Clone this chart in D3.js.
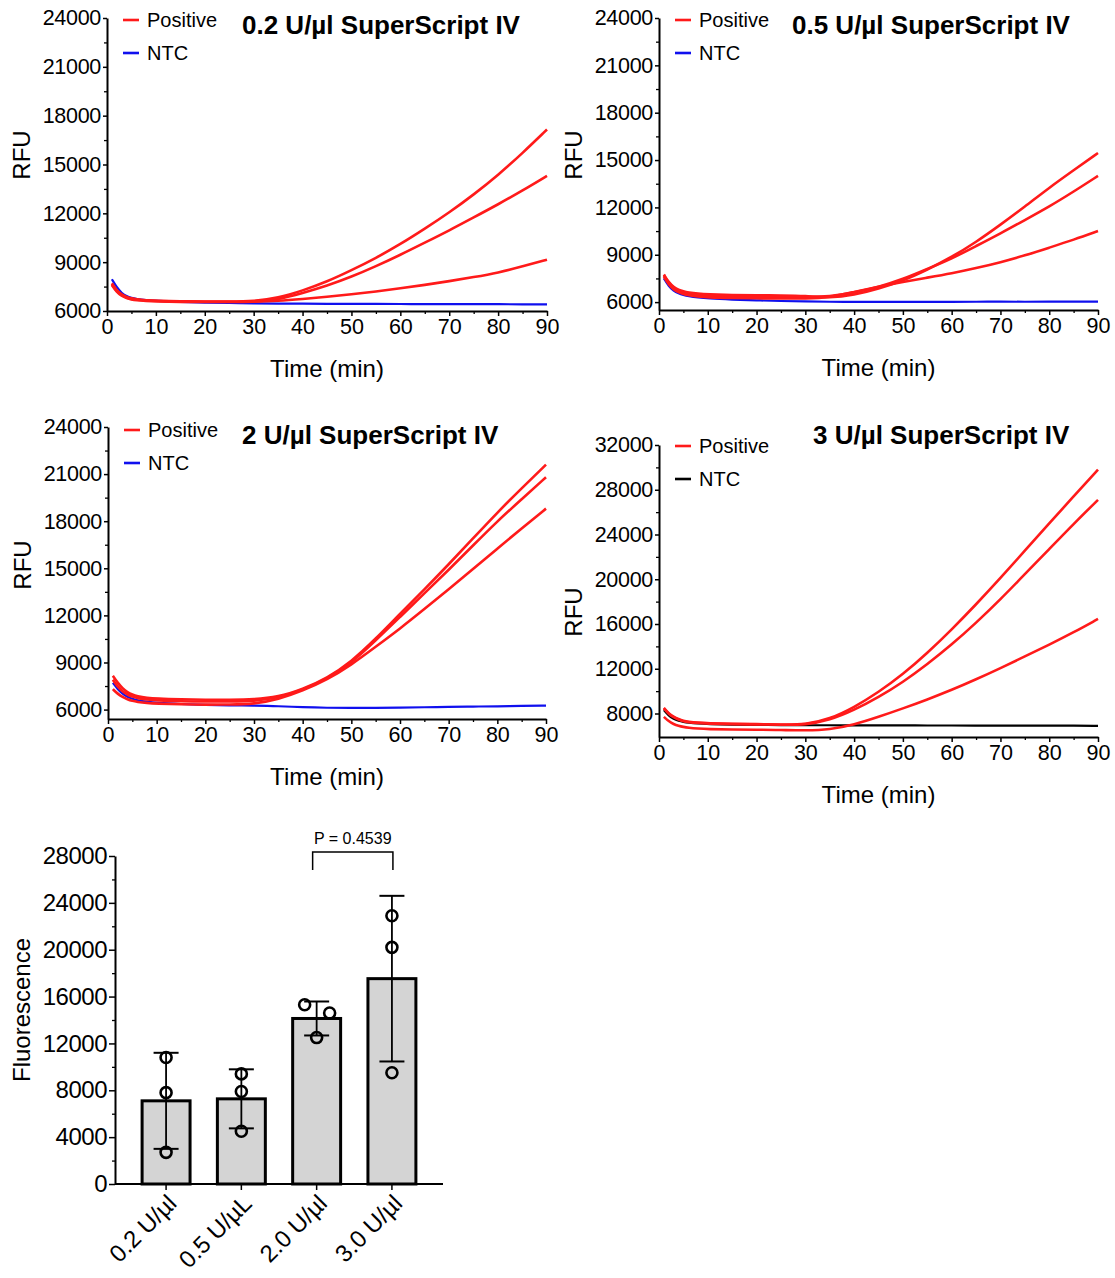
<!DOCTYPE html>
<html><head><meta charset="utf-8">
<script src="https://cdn.jsdelivr.net/npm/d3@7"></script>
<style>body{margin:0;background:#fff}svg{display:block}text{font-family:"Liberation Sans",Arial,sans-serif}</style>
</head><body>
<svg id="c" width="1115" height="1278"></svg>
<script>
// ---------- DATA ----------
const times = [1,2,3,4,5,6,8,10,15,20,25,30,35,40,45,50,55,60,65,70,75,80,85,90];
const xTickLabels = [0,10,20,30,40,50,60,70,80,90];

// 0.2 U/µl
const pos02a = [7700,7250,7000,6850,6770,6720,6660,6630,6600,6580,6580,6600,6800,7250,7800,8500,9250,10100,11050,12050,13150,14350,15700,17150];
const pos02b = [7650,7200,6950,6820,6740,6690,6640,6610,6580,6570,6570,6580,6700,7100,7550,8100,8750,9450,10200,10950,11750,12550,13400,14300];
const pos02c = [7600,7150,6920,6790,6710,6660,6620,6590,6560,6550,6550,6560,6620,6740,6870,7020,7200,7390,7600,7830,8080,8350,8740,9150];
const ntc02  = [7950,7450,7100,6900,6800,6740,6670,6620,6550,6520,6490,6470,6450,6450,6440,6430,6440,6430,6420,6430,6420,6420,6410,6410];
// 0.5 U/µl
const pos05a = [7750,7250,6950,6780,6680,6610,6530,6490,6450,6430,6420,6400,6250,6450,6850,7350,8050,8850,9800,10900,12050,13250,14350,15450];
const pos05b = [7700,7200,6900,6730,6620,6550,6460,6410,6370,6350,6340,6330,6350,6600,6950,7450,8100,8750,9550,10350,11200,12050,13000,14000];
const pos05c = [7600,7100,6800,6620,6510,6440,6350,6300,6260,6240,6230,6220,6300,6650,6980,7280,7550,7820,8150,8520,8950,9450,9950,10500];
const ntc05  = [7500,7000,6700,6550,6450,6380,6290,6230,6160,6110,6070,6040,6020,6010,6010,6010,6020,6020,6020,6030,6020,6030,6030,6030];
// 2 U/µl
const pos2a = [8150,7700,7350,7100,6950,6850,6750,6700,6650,6620,6620,6640,6800,7300,8000,9050,10500,12100,13650,15250,16900,18550,20100,21600];
const pos2b = [7900,7450,7150,6950,6820,6730,6630,6580,6530,6510,6520,6540,6750,7250,7950,8950,10400,11900,13400,14900,16450,18000,19400,20800];
const pos2c = [7300,7000,6800,6650,6550,6490,6420,6380,6330,6310,6320,6350,6650,7200,7900,8850,10000,11150,12400,13650,14950,16250,17550,18800];
const ntc2  = [7700,7300,7000,6800,6680,6600,6500,6430,6350,6300,6270,6250,6220,6150,6110,6100,6110,6130,6150,6170,6190,6210,6230,6250];
// 3 U/µl
const pos3a = [8500,8000,7700,7500,7350,7270,7180,7130,7080,7050,7020,7000,7500,8550,9900,11500,13400,15500,17750,20100,22550,25000,27400,29800];
const pos3b = [8450,7950,7650,7450,7300,7220,7140,7090,7050,7020,7000,6980,7400,8300,9450,10800,12400,14150,16100,18200,20450,22700,24950,27100];
const pos3c = [7700,7300,7050,6900,6800,6730,6650,6600,6570,6550,6530,6480,6550,7000,7700,8450,9250,10100,11050,12050,13100,14150,15250,16450];
const ntc3  = [8300,7800,7500,7350,7250,7180,7100,7050,7000,6980,6960,6950,6950,6940,6940,6930,6930,6930,6920,6920,6920,6910,6910,6900];

// bar chart
const barCats = ["0.2 U/µl","0.5 U/µL","2.0 U/µl","3.0 U/µl"];
const barMeans = [7100,7270,14130,17530];
const barSD = [4100,2520,1450,7070];
const barPoints = [[10800,7800,2700],[9400,7900,4500],[15300,14600,12500],[22900,20200,9500]];
const barTicks = [0,4000,8000,12000,16000,20000,24000,28000];
const pLabel = "P = 0.4539";

// ---------- DRAW ----------
const svg = d3.select("#c");
const RED = "#ff1a1a", BLUE = "#1010ee", BLACK = "#000";

function range(a,b,s){const r=[];for(let v=a;v<=b+1e-9;v+=s)r.push(v);return r;}

function axisStyle(g, fs){
  g.selectAll("path.domain").attr("stroke","#000").attr("stroke-width",2);
  g.selectAll(".tick line").attr("stroke","#000").attr("stroke-width",1.5);
  g.selectAll(".tick text").attr("font-size",fs).attr("fill","#000");
}

function panel(o){
  const g = svg.append("g");
  const x = d3.scaleLinear().domain([0,90]).range([o.x0,o.x1]);
  const y = d3.scaleLinear().domain([o.ymin,o.ymax]).range([o.yb,o.yt]);
  g.append("g").attr("transform",`translate(0,${o.yb})`)
    .call(d3.axisBottom(x).tickValues(range(5,85,10)).tickSize(3).tickFormat("").tickSizeOuter(0))
    .call(s=>s.select(".domain").remove()).selectAll("line").attr("stroke","#000").attr("stroke-width",1.3);
  g.append("g").attr("transform",`translate(${o.x0},0)`)
    .call(d3.axisLeft(y).tickValues(o.yMinor).tickSize(3).tickFormat("").tickSizeOuter(0))
    .call(s=>s.select(".domain").remove()).selectAll("line").attr("stroke","#000").attr("stroke-width",1.3);
  const gx = g.append("g").attr("transform",`translate(0,${o.yb})`)
    .call(d3.axisBottom(x).tickValues(xTickLabels).tickSize(5).tickPadding(3).tickSizeOuter(0).tickFormat(d3.format("d")));
  axisStyle(gx, 21.5);
  const gy = g.append("g").attr("transform",`translate(${o.x0},0)`)
    .call(d3.axisLeft(y).tickValues(o.yTicks).tickSize(4).tickPadding(2).tickSizeOuter(0).tickFormat(d3.format("d")));
  axisStyle(gy, 21.5);
  gy.selectAll(".tick text").attr("letter-spacing","-0.3");

  const line = d3.line().x((d,i)=>x(times[i])).y(d=>y(d)).curve(d3.curveBasis);
  g.append("path").datum(o.ntc).attr("d",line).attr("fill","none").attr("stroke",o.ntcColor).attr("stroke-width",2.2);
  o.pos.forEach(s=>{
    g.append("path").datum(s).attr("d",line).attr("fill","none").attr("stroke",RED).attr("stroke-width",2.6);
  });
  const lg = g.append("g");
  [[o.legY,RED,"Positive"],[o.legY+33,o.ntcColor,"NTC"]].forEach(([ly,c,t])=>{
    lg.append("line").attr("x1",o.x0+16).attr("x2",o.x0+32).attr("y1",ly).attr("y2",ly).attr("stroke",c).attr("stroke-width",2.6);
    lg.append("text").attr("x",o.x0+40).attr("y",ly+7).attr("font-size",20).text(t);
  });
  g.append("text").attr("x",o.titleX).attr("y",o.titleY).attr("font-size",26).attr("font-weight","bold").text(o.title);
  g.append("text").attr("x",(o.x0+o.x1)/2).attr("y",o.yb+66).attr("text-anchor","middle").attr("font-size",24).text("Time (min)");
  g.append("text").attr("transform",`translate(${o.x0-77},${o.rfuY}) rotate(-90)`).attr("text-anchor","middle").attr("font-size",24).text("RFU");
}

const yT1 = range(6000,24000,3000), yM1 = range(7500,22500,3000);
panel({x0:107,x1:547,ymin:6000,ymax:24000,yb:311,yt:18,yTicks:yT1,yMinor:yM1,
  pos:[pos02a,pos02b,pos02c],ntc:ntc02,ntcColor:BLUE,legY:20,title:"0.2 U/µl SuperScript IV",titleX:242,titleY:34,rfuY:155});
panel({x0:659,x1:1098,ymin:5500,ymax:24000,yb:310,yt:18,yTicks:yT1,yMinor:yM1,
  pos:[pos05a,pos05b,pos05c],ntc:ntc05,ntcColor:BLUE,legY:20,title:"0.5 U/µl SuperScript IV",titleX:792,titleY:34,rfuY:155});
panel({x0:108,x1:546,ymin:5400,ymax:24000,yb:719,yt:427,yTicks:yT1,yMinor:yM1,
  pos:[pos2a,pos2b,pos2c],ntc:ntc2,ntcColor:BLUE,legY:430,title:"2 U/µl SuperScript IV",titleX:242,titleY:444,rfuY:565});
panel({x0:659,x1:1098,ymin:5900,ymax:32000,yb:737,yt:445,yTicks:range(8000,32000,4000),yMinor:range(10000,30000,4000),
  pos:[pos3a,pos3b,pos3c],ntc:ntc3,ntcColor:BLACK,legY:446,title:"3 U/µl SuperScript IV",titleX:813,titleY:444,rfuY:612});

// ---------- BAR CHART ----------
(function(){
  const g = svg.append("g");
  const x = d3.scaleBand().domain(barCats).range([115,443]).paddingInner(0.363).paddingOuter(0.36);
  const y = d3.scaleLinear().domain([0,28000]).range([1184,856]);
  g.append("g").attr("transform","translate(115,0)")
    .call(d3.axisLeft(y).tickValues(range(2000,26000,4000)).tickSize(3).tickFormat("").tickSizeOuter(0))
    .call(s=>s.select(".domain").remove()).selectAll("line").attr("stroke","#000").attr("stroke-width",1.3);
  const gy = g.append("g").attr("transform","translate(115,0)")
    .call(d3.axisLeft(y).tickValues(barTicks).tickSize(6).tickPadding(2).tickSizeOuter(0).tickFormat(d3.format("d")));
  axisStyle(gy, 24);
  gy.selectAll(".tick text").attr("letter-spacing","-0.5");
  g.selectAll("rect.bar").data(barMeans).join("rect")
    .attr("x",(d,i)=>x(barCats[i])).attr("width",x.bandwidth())
    .attr("y",d=>y(d)).attr("height",d=>y(0)-y(d))
    .attr("fill","#d4d4d4").attr("stroke","#000").attr("stroke-width",3);
  const gx = g.append("g").attr("transform","translate(0,1184)")
    .call(d3.axisBottom(x).tickSize(6).tickSizeOuter(0).tickFormat(""));
  axisStyle(gx, 22);
  gx.select(".domain").attr("d","M115,0H443");
  barCats.forEach((c,i)=>{
    const cx = x(c)+x.bandwidth()/2;
    g.append("text").attr("transform",`translate(${cx+6},${1199}) rotate(-45)`)
      .attr("text-anchor","end").attr("dy","0.35em").attr("font-size",24).text(c);
  });
  barMeans.forEach((m,i)=>{
    const cx = x(barCats[i])+x.bandwidth()/2;
    const lo = m-barSD[i], hi = m+barSD[i];
    g.append("line").attr("x1",cx).attr("x2",cx).attr("y1",y(lo)).attr("y2",y(hi)).attr("stroke","#000").attr("stroke-width",1.8);
    [lo,hi].forEach(v=>g.append("line").attr("x1",cx-12.5).attr("x2",cx+12.5).attr("y1",y(v)).attr("y2",y(v)).attr("stroke","#000").attr("stroke-width",2));
  });
  const jitter = [[0,0,0],[0,0,0],[-12,13,0],[0,0,0]];
  barPoints.forEach((pts,i)=>{
    const cx = x(barCats[i])+x.bandwidth()/2;
    pts.forEach((v,j)=>{
      g.append("circle").attr("cx",cx+jitter[i][j]).attr("cy",y(v)).attr("r",5.5)
        .attr("fill","none").attr("stroke","#000").attr("stroke-width",2.6);
    });
  });
  const c3 = x(barCats[2])+x.bandwidth()/2-4, c4 = x(barCats[3])+x.bandwidth()/2+1;
  g.append("path").attr("d",`M${c3},870V852H${c4}V870`).attr("fill","none").attr("stroke","#000").attr("stroke-width",1.5);
  g.append("text").attr("x",(c3+c4)/2).attr("y",844).attr("text-anchor","middle").attr("font-size",16).text(pLabel);
  g.append("text").attr("transform","translate(30,1010) rotate(-90)").attr("text-anchor","middle").attr("font-size",24).text("Fluorescence");
})();
</script>
</body></html>
